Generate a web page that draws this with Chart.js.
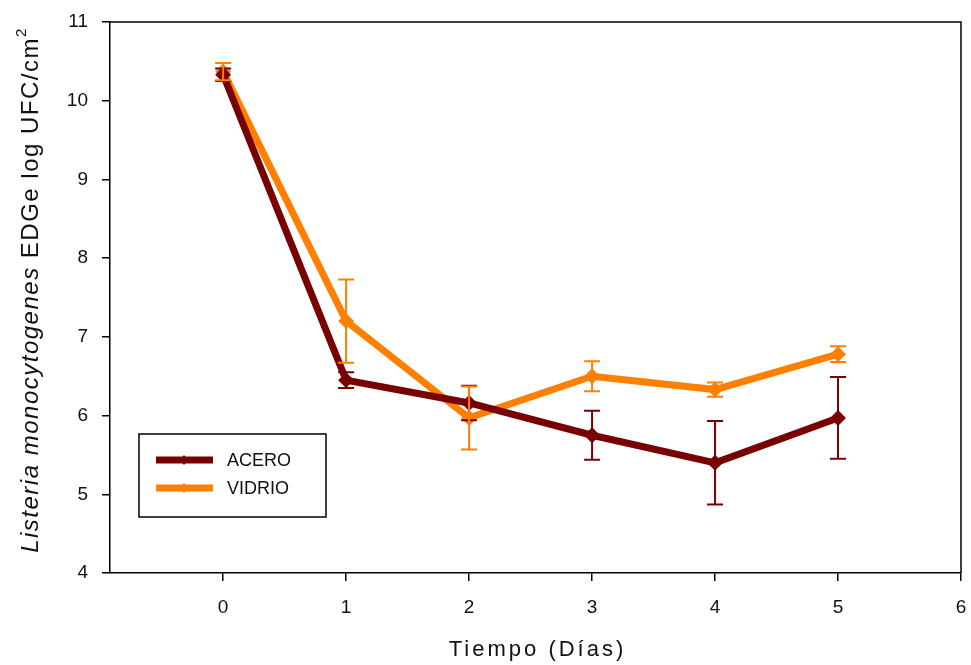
<!DOCTYPE html>
<html>
<head>
<meta charset="utf-8">
<script src="https://cdn.jsdelivr.net/npm/chart.js@4.4.0/dist/chart.umd.min.js"></script>
<style>
  html, body { margin: 0; padding: 0; background: #fff; }
  #wrap { width: 971px; height: 665px; }
</style>
</head>
<body>
<div id="wrap"><canvas id="chart" width="971" height="665"></canvas></div>
<script>
const days = [0, 1, 2, 3, 4, 5];
const xTicks = [0, 1, 2, 3, 4, 5, 6];
const yTicks = [4, 5, 6, 7, 8, 9, 10, 11];

const aceroMean = [10.33, 6.45, 6.16, 5.75, 5.40, 5.97];
const aceroErr  = [0.08, 0.10, 0.22, 0.31, 0.53, 0.52];
const vidrioMean = [10.37, 7.20, 5.97, 6.50, 6.33, 6.78];
const vidrioErr  = [0.11, 0.53, 0.40, 0.19, 0.09, 0.10];

const ACERO_COLOR = '#780000';
const VIDRIO_COLOR = '#ff8000';
const FONT = '"Liberation Sans", Arial, sans-serif';

function toPoints(xs, ys) {
	return xs.map(function (x, i) { return { x: x, y: ys[i] }; });
}

// error bars drawn through the chart scales
const errorBars = {
	id: 'errorBars',
	afterDatasetsDraw: function (chart) {
		const ctx = chart.ctx;
		const xs = chart.scales.x, ys = chart.scales.y;
		chart.data.datasets.forEach(function (ds) {
			ctx.save();
			ctx.strokeStyle = ds.borderColor;
			ctx.lineWidth = 2;
			ds.data.forEach(function (p, i) {
				const e = ds.errors[i];
				const px = xs.getPixelForValue(p.x);
				const top = ys.getPixelForValue(p.y + e);
				const bot = ys.getPixelForValue(p.y - e);
				ctx.beginPath();
				ctx.moveTo(px, top); ctx.lineTo(px, bot);
				ctx.moveTo(px - 8, top); ctx.lineTo(px + 8, top);
				ctx.moveTo(px - 8, bot); ctx.lineTo(px + 8, bot);
				ctx.stroke();
			});
			ctx.restore();
		});
	}
};

// frame, boxed legend, axis titles
const decorations = {
	id: 'decorations',
	afterDraw: function (chart) {
		const ctx = chart.ctx;
		const area = chart.chartArea;
		ctx.save();
		ctx.strokeStyle = '#000';
		ctx.lineWidth = 1.5;
		ctx.beginPath();
		ctx.moveTo(area.left, area.top);
		ctx.lineTo(area.right, area.top);
		ctx.lineTo(area.right, area.bottom);
		ctx.stroke();

		// legend box
		const bx = 139, by = 434, bw = 187, bh = 83;
		ctx.lineWidth = 1.5;
		ctx.strokeRect(bx, by, bw, bh);
		ctx.font = '18px ' + FONT;
		ctx.textBaseline = 'middle';
		chart.data.datasets.forEach(function (ds, i) {
			const ly = by + 26 + i * 28;
			ctx.strokeStyle = ds.borderColor;
			ctx.lineWidth = 7;
			ctx.beginPath();
			ctx.moveTo(bx + 17, ly); ctx.lineTo(bx + 74, ly);
			ctx.stroke();
			ctx.fillStyle = ds.borderColor;
			ctx.beginPath();
			ctx.moveTo(bx + 45, ly - 5); ctx.lineTo(bx + 49, ly);
			ctx.lineTo(bx + 45, ly + 5); ctx.lineTo(bx + 41, ly);
			ctx.fill();
			ctx.fillStyle = '#111';
			ctx.fillText(ds.label, bx + 88, ly + 1);
		});

		// x axis title
		ctx.font = '22px ' + FONT;
		ctx.letterSpacing = '3px';
		ctx.textAlign = 'center';
		ctx.textBaseline = 'alphabetic';
		ctx.fillStyle = '#111';
		ctx.fillText('Tiempo (Días)', (area.left + area.right) / 2 + 2, 656);

		// y axis title, italic species name
		ctx.letterSpacing = '1.5px';
		ctx.translate(31, 290);
		ctx.rotate(-Math.PI / 2);
		const italic = 'italic 24px ' + FONT;
		const normal = '24px ' + FONT;
		const small = '15px ' + FONT;
		const p1 = 'Listeria monocytogenes';
		const p2 = ' EDGe log UFC/cm';
		const p3 = '2';
		ctx.font = italic; const w1 = ctx.measureText(p1).width;
		ctx.font = normal; const w2 = ctx.measureText(p2).width;
		ctx.font = small; const w3 = ctx.measureText(p3).width;
		let x0 = -(w1 + w2 + w3) / 2;
		ctx.textBaseline = 'middle';
		ctx.textAlign = 'left';
		ctx.font = italic; ctx.fillText(p1, x0, 0); x0 += w1;
		ctx.font = normal; ctx.fillText(p2, x0, 0); x0 += w2;
		ctx.font = small; ctx.fillText(p3, x0, -9);
		ctx.restore();
	}
};

new Chart(document.getElementById('chart').getContext('2d'), {
	type: 'scatter',
	data: {
		datasets: [
			{
				label: 'ACERO',
				data: toPoints(days, aceroMean),
				errors: aceroErr,
				showLine: true,
				borderColor: ACERO_COLOR,
				backgroundColor: ACERO_COLOR,
				borderWidth: 7,
				pointStyle: 'rectRot',
				pointRadius: 3,
				pointHoverRadius: 3,
			},
			{
				label: 'VIDRIO',
				data: toPoints(days, vidrioMean),
				errors: vidrioErr,
				showLine: true,
				borderColor: VIDRIO_COLOR,
				backgroundColor: VIDRIO_COLOR,
				borderWidth: 7,
				pointStyle: 'rectRot',
				pointRadius: 3,
				pointHoverRadius: 3,
			},
		],
	},
	options: {
		responsive: false,
		animation: false,
		layout: { padding: { top: 22, right: 10, left: 0, bottom: 0 } },
		plugins: {
			legend: { display: false },
			tooltip: { enabled: false },
		},
		scales: {
			x: {
				type: 'linear',
				min: -0.92,
				max: 6,
				afterBuildTicks: function (scale) {
					scale.ticks = xTicks.map(function (v) { return { value: v }; });
				},
				afterFit: function (scale) {
					scale.height = 92;
					scale.paddingLeft = 0;
					scale.paddingRight = 0;
				},
				grid: { drawOnChartArea: false, color: '#000', tickLength: 8, lineWidth: 1.5 },
				border: { color: '#000', width: 1.5 },
				ticks: { color: '#111', font: { family: FONT, size: 19 }, padding: 15 },
			},
			y: {
				min: 4,
				max: 11,
				afterBuildTicks: function (scale) {
					scale.ticks = yTicks.map(function (v) { return { value: v }; });
				},
				afterFit: function (scale) {
					scale.width = 110;
					scale.paddingTop = 0;
					scale.paddingBottom = 0;
				},
				grid: { drawOnChartArea: false, color: '#000', tickLength: 8, lineWidth: 1.5 },
				border: { color: '#000', width: 1.5 },
				ticks: { color: '#111', font: { family: FONT, size: 19 }, padding: 14 },
			},
		},
	},
	plugins: [errorBars, decorations],
});
</script>
</body>
</html>
